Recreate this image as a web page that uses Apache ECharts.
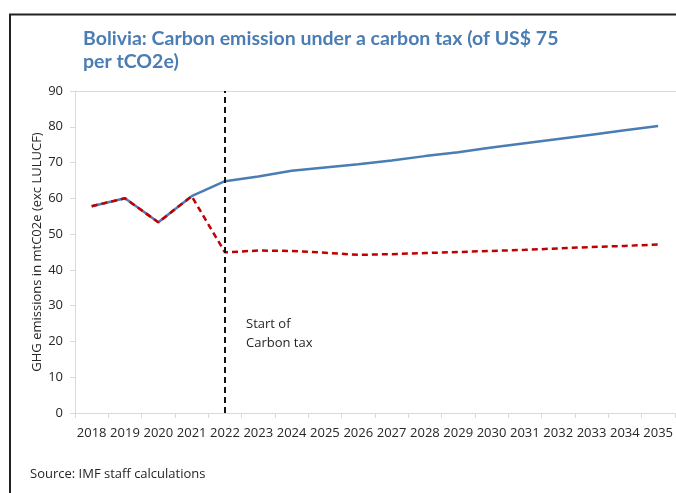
<!DOCTYPE html>
<html>
<head>
<meta charset="utf-8">
<script src="https://cdn.jsdelivr.net/npm/echarts@6/dist/echarts.min.js"></script>
<style>
  html, body { margin: 0; padding: 0; background: #fff; }
  #chart { width: 676px; height: 493px; }
</style>
</head>
<body>
<div id="chart"></div>
<script>
// Years on the horizontal axis
const years = ['2018','2019','2020','2021','2022','2023','2024','2025','2026',
               '2027','2028','2029','2030','2031','2032','2033','2034','2035'];

// Baseline GHG emissions, mtCO2e (exc LULUCF)
const baseline = [57.8, 60.0, 53.3, 60.6, 64.8, 66.1, 67.7, 68.6, 69.5,
                  70.6, 71.8, 72.9, 74.2, 75.4, 76.6, 77.8, 79.0, 80.2];

// Emissions with a carbon tax of US$ 75 per tCO2e from 2022
const withTax = [57.8, 60.0, 53.3, 60.6, 44.9, 45.4, 45.3, 44.8, 44.2,
                 44.4, 44.7, 45.0, 45.3, 45.6, 46.0, 46.4, 46.7, 47.1];

const taxStartYear = '2022';
const yTicks = { min: 0, max: 90, interval: 10 };

const FONT = '"Open Sans", "Noto Sans", sans-serif';
const chart = echarts.init(document.getElementById('chart'), null, { renderer: 'canvas' });

chart.setOption({
  animation: false,
  backgroundColor: '#ffffff',
  textStyle: { fontFamily: FONT },
  grid: { left: 75, right: 0, top: 91, bottom: 80, containLabel: false },
  graphic: [
    // outer frame: top and left edges
    { type: 'line', silent: true,
      shape: { x1: 9, y1: 14.5, x2: 676, y2: 14.5 },
      style: { stroke: '#222', lineWidth: 2 } },
    { type: 'line', silent: true,
      shape: { x1: 10, y1: 14, x2: 10, y2: 493 },
      style: { stroke: '#222', lineWidth: 2 } },
    // top edge of the plot area
    { type: 'line', silent: true,
      shape: { x1: 75, y1: 91.5, x2: 676, y2: 91.5 },
      style: { stroke: '#d9d9d9', lineWidth: 1 } },
    { type: 'text', left: 83, top: 27,
      style: { text: 'Bolivia: Carbon emission under a carbon tax (of US$ 75\nper tCO2e)',
               font: 'bold 19.5px Lato, "Open Sans", sans-serif', fill: '#4a7db3', lineHeight: 23 } },
    { type: 'text', left: 246, top: 315,
      style: { text: 'Start of\nCarbon tax', font: '13px ' + FONT, fill: '#262626', lineHeight: 19 } },
    { type: 'text', left: 30, top: 468,
      style: { text: 'Source: IMF staff calculations', font: '13px ' + FONT, fill: '#262626' } }
  ],
  xAxis: {
    type: 'category',
    data: years,
    boundaryGap: true,
    axisLine: { lineStyle: { color: '#d9d9d9', width: 1 } },
    axisTick: { show: true, inside: false, length: 5, alignWithLabel: false,
                lineStyle: { color: '#d9d9d9' } },
    axisLabel: { color: '#262626', fontSize: 13, margin: 14, interval: 0, fontFamily: FONT },
    splitLine: { show: false }
  },
  yAxis: {
    type: 'value',
    min: yTicks.min, max: yTicks.max, interval: yTicks.interval,
    name: 'GHG emissions in mtC02e (exc LULUCF)',
    nameLocation: 'middle',
    nameGap: 31,
    nameMoveOverlap: false,
    nameTextStyle: { color: '#262626', fontSize: 13, fontFamily: FONT },
    axisLine: { show: true, lineStyle: { color: '#d9d9d9', width: 1 } },
    axisTick: { show: true, inside: false, length: 5, lineStyle: { color: '#d9d9d9' } },
    axisLabel: { color: '#262626', fontSize: 13, margin: 12, fontFamily: FONT },
    splitLine: { show: false }
  },
  series: [
    {
      name: 'Baseline',
      type: 'line',
      data: baseline,
      symbol: 'none',
      lineStyle: { color: '#4a7db3', width: 2.5 },
      z: 2,
      markLine: {
        silent: true,
        symbol: ['none', 'none'],
        label: { show: false },
        lineStyle: { color: '#111', width: 2, type: [6, 4] },
        data: [{ xAxis: taxStartYear }]
      }
    },
    {
      name: 'Carbon tax',
      type: 'line',
      data: withTax,
      symbol: 'none',
      lineStyle: { color: '#c00000', width: 2.5, type: [6, 4] },
      z: 3
    }
  ]
});
</script>
</body>
</html>
